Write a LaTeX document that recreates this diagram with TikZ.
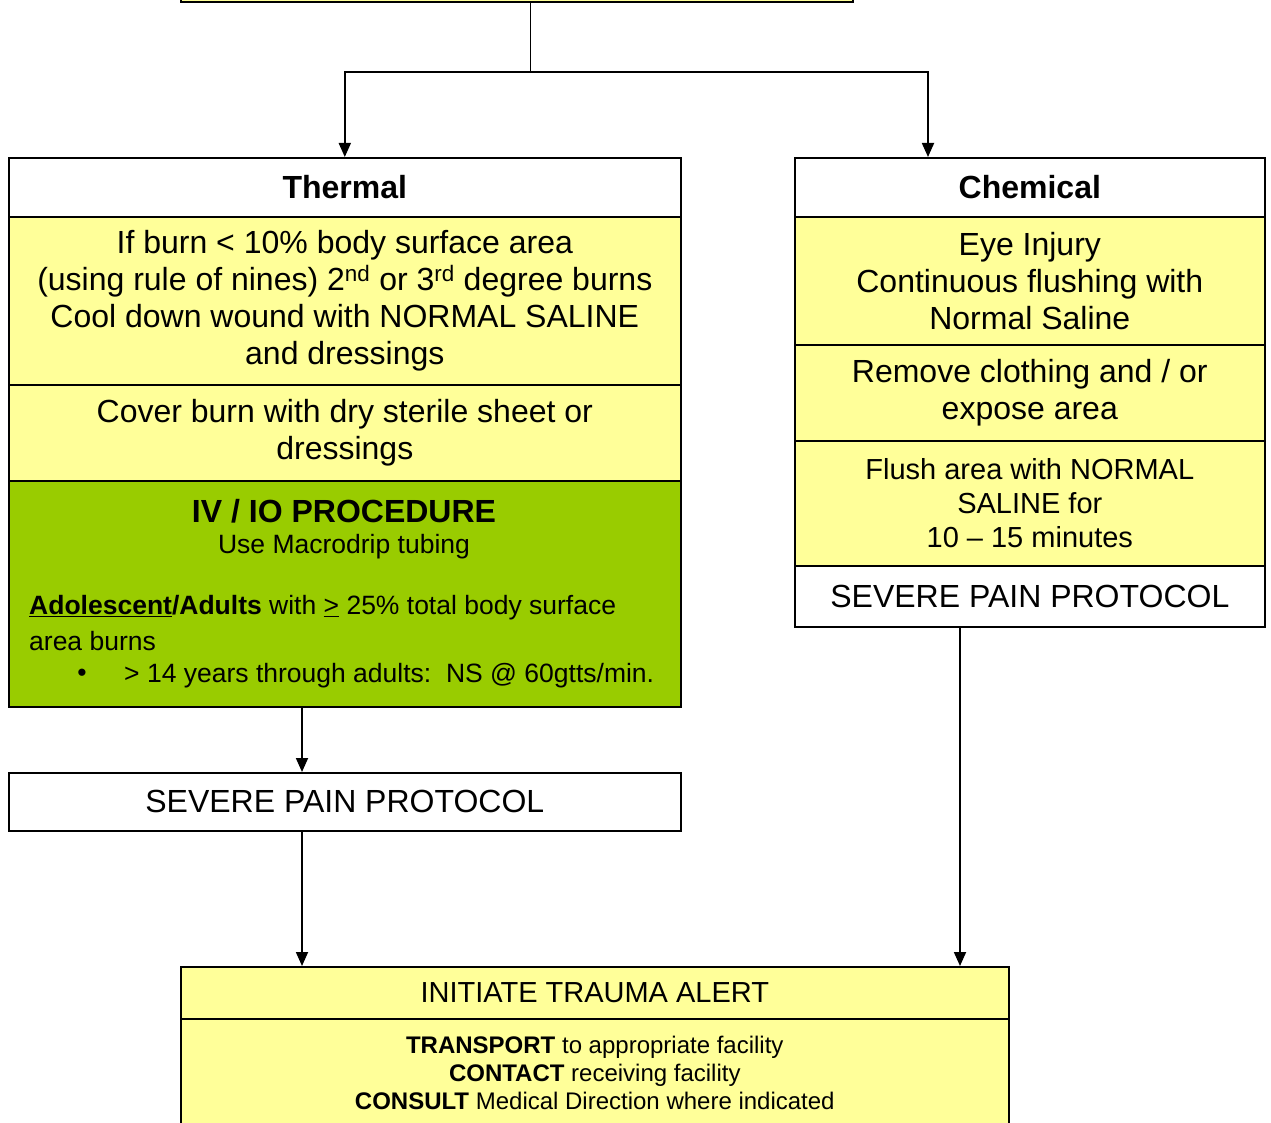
\documentclass[tikz,border=0pt]{standalone}
\usepackage{fontspec}
\setmainfont{Liberation Sans}
\usepackage{xcolor}
\usepackage{tikz}
\usetikzlibrary{positioning,arrows.meta}

\definecolor{paleyellow}{HTML}{FFFF99}
\definecolor{limegreen}{HTML}{99CC00}

\begin{document}
\begin{tikzpicture}[x=1pt, y=-1pt,
    box/.style={draw, line width=1.6pt, anchor=north west, inner sep=0pt, align=center},
    yelbox/.style={box, fill=paleyellow},
    whtbox/.style={box, fill=white},
    bigtxt/.style={font=\fontsize{32}{37}\selectfont},
    midtxt/.style={font=\fontsize{29}{34}\selectfont},
    smalltxt/.style={font=\fontsize{24}{28}\selectfont},
    ivtxt/.style={inner sep=0pt, font=\fontsize{26.5}{33}\selectfont},
    arr/.style={line width=1.8pt, -{Triangle[length=14pt,width=12pt]}}]
    \useasboundingbox (0,0) rectangle (1271,1123);
    \clip (0,0) rectangle (1271,1123);

    % Top box (cut off)
    \node [yelbox, minimum width=672pt, minimum height=61pt] (top) at (180,-60) {};
    \coordinate (split) at (530,72);
    \coordinate (chemx) at (928,0);
    \coordinate (leftx) at (302,0);
    \coordinate (rightx) at (960,0);

    % Thermal
    \node [whtbox, bigtxt, minimum width=672pt, minimum height=59pt] (thermhead) at (8,157) {\textbf{Thermal}};
    \node [yelbox, bigtxt, minimum width=672pt, minimum height=168pt] (therm1) at (8,216)
        {If burn < 10\% body surface area\\(using rule of nines) 2\textsuperscript{nd} or 3\textsuperscript{rd} degree burns\\Cool down wound with NORMAL SALINE\\and dressings};
    \node [yelbox, bigtxt, minimum width=672pt, minimum height=96pt] (therm2) at (8,384)
        {Cover burn with dry sterile sheet or\\dressings};
    \node [box, fill=limegreen, minimum width=672pt, minimum height=226pt] (iv) at (8,480) {};
    \node [ivtxt, font=\bfseries\fontsize{32}{37}\selectfont] (ivtitle) at (344,511) {IV / IO PROCEDURE};
    \node [ivtxt] (ivsub) at (344,547) {Use Macrodrip tubing};
    \node [ivtxt, anchor=west] (ivline1) at (29,608)
        {\textbf{\underline{Adolescent}/Adults} with \underline{>} 25\% total body surface};
    \node [ivtxt, anchor=west] (ivline2) at (29,641) {area burns};
    \node [ivtxt] (ivdot) at (82,675) {\textbullet};
    \node [ivtxt, anchor=west] (ivline3) at (124,676) {> 14 years through adults:\ \ NS @ 60gtts/min.};
    \node [whtbox, bigtxt, minimum width=672pt, minimum height=58pt] (painL) at (8,772) {SEVERE PAIN PROTOCOL};

    % Chemical
    \node [whtbox, bigtxt, minimum width=470pt, minimum height=59pt] (chemhead) at (794,157) {\textbf{Chemical}};
    \node [yelbox, bigtxt, minimum width=470pt, minimum height=128pt] (chem1) at (794,216)
        {Eye Injury\\Continuous flushing with\\Normal Saline};
    \node [yelbox, bigtxt, minimum width=470pt, minimum height=96pt] (chem2) at (794,344)
        {Remove clothing and / or\\expose area};
    \node [yelbox, midtxt, minimum width=470pt, minimum height=125pt] (chem3) at (794,440)
        {Flush area with NORMAL\\SALINE for\\10 -- 15 minutes};
    \node [whtbox, bigtxt, minimum width=470pt, minimum height=61pt] (painR) at (794,565) {SEVERE PAIN PROTOCOL};

    % Trauma alert
    \node [yelbox, midtxt, minimum width=828pt, minimum height=52pt] (alert) at (180,966) {INITIATE TRAUMA ALERT};
    \node [yelbox, smalltxt, minimum width=828pt, minimum height=108pt] (alertinfo) at (180,1018)
        {\textbf{TRANSPORT} to appropriate facility\\\textbf{CONTACT} receiving facility\\\textbf{CONSULT} Medical Direction where indicated};

    % Connectors
    \draw [line width=1pt] (top.south -| split) -- (split);
    \draw [arr] (split) -| (thermhead.north);
    \draw [arr] (split) -| (chemhead.north -| chemx);
    \draw [arr] (iv.south -| leftx) -- (painL.north -| leftx);
    \draw [arr] (painL.south -| leftx) -- (alert.north -| leftx);
    \draw [arr] (painR.south -| rightx) -- (alert.north -| rightx);
\end{tikzpicture}
\end{document}
